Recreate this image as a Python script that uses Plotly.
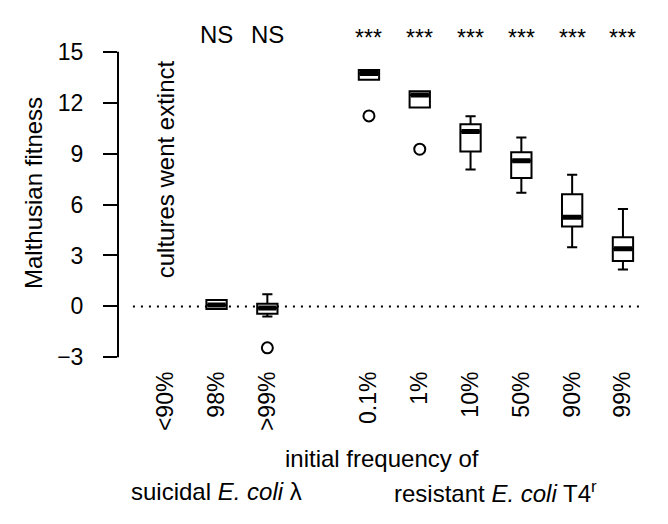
import plotly.graph_objects as go

FONT = "Liberation Sans, Arial, Helvetica, sans-serif"

# ---- data ----
tick_positions = [1, 2, 3, 5, 6, 7, 8, 9, 10]
tick_labels = ["&lt;90%", "98%", "&gt;99%", "0.1%", "1%", "10%", "50%", "90%", "99%"]

box_x = [2, 3, 5, 6, 7, 8, 9, 10]
box_q1 = [-0.15, -0.43, 13.35, 11.72, 9.12, 7.57, 4.70, 2.67]
box_median = [0.08, -0.10, 13.72, 12.45, 10.30, 8.58, 5.25, 3.40]
box_q3 = [0.38, 0.16, 13.92, 12.68, 10.73, 9.08, 6.60, 4.07]
box_lower = [-0.15, -0.59, 13.35, 11.72, 8.06, 6.70, 3.48, 2.18]
box_upper = [0.38, 0.71, 13.92, 12.68, 11.20, 9.95, 7.76, 5.74]

outlier_x = [3, 5, 6]
outlier_y = [-2.44, 11.22, 9.26]

sig_x = [2, 3, 5, 6, 7, 8, 9, 10]
sig_text = ["NS", "NS", "***", "***", "***", "***", "***", "***"]

y_ticks = [-3, 0, 3, 6, 9, 12, 15]

# ---- layout geometry ----
L, R, T, B = 118, 0, 10, 158
W, H = 668, 524
plot_w = W - L - R
plot_h = H - T - B
x_range = [0.06, 0.06 + plot_w / 50.8]
y_range = [-3.51, 17.46]


def py(px):
    """pixel row -> paper y"""
    return (H - B - px) / plot_h


def pxx(px):
    """pixel column -> paper x"""
    return (px - L) / plot_w


fig = go.Figure()

fig.add_trace(go.Box(
    x=box_x, q1=box_q1, median=box_median, q3=box_q3,
    lowerfence=box_lower, upperfence=box_upper,
    width=0.40, whiskerwidth=0.5,
    fillcolor="white", line=dict(color="black", width=2),
    boxpoints=False, showlegend=False, hoverinfo="skip",
))
# thick median bars
fig.add_trace(go.Box(
    x=box_x, q1=box_median, median=box_median, q3=box_median,
    lowerfence=box_median, upperfence=box_median,
    width=0.36, whiskerwidth=0,
    fillcolor="black", line=dict(color="black", width=5),
    boxpoints=False, showlegend=False, hoverinfo="skip",
))
fig.add_trace(go.Scatter(
    x=outlier_x, y=outlier_y, mode="markers",
    marker=dict(symbol="circle-open", size=11, color="black",
                line=dict(width=2, color="black")),
    showlegend=False, hoverinfo="skip",
))

# dotted zero line
fig.add_shape(type="line", xref="x", yref="y", x0=0.354, x1=10.37, y0=0, y1=0,
              line=dict(color="black", width=2, dash="2px,6px"), layer="below")
# y axis line from -3 to 15
fig.add_shape(type="line", xref="paper", yref="y", x0=0, x1=0,
              y0=y_ticks[0], y1=y_ticks[-1],
              line=dict(color="black", width=2))

TXT = 24
ann = []
for xv, t in zip(sig_x, sig_text):
    ann.append(dict(x=xv, y=16.0, xref="x", yref="y", text=t, showarrow=False,
                    font=dict(family=FONT, size=TXT if t == "NS" else 23, color="black"),
                    xanchor="center", yanchor="middle",
                    yshift=0 if t == "NS" else -3))
ann.append(dict(x=1, y=py(169.5), xref="x", yref="paper", text="cultures went extinct",
                textangle=-90, showarrow=False,
                font=dict(family=FONT, size=TXT, color="black"),
                xanchor="center", yanchor="middle"))
ann.append(dict(x=pxx(33), y=py(193), xref="paper", yref="paper", text="Malthusian fitness",
                textangle=-90, showarrow=False,
                font=dict(family=FONT, size=TXT, color="black"),
                xanchor="center", yanchor="middle"))
ann.append(dict(x=pxx(382), y=py(458), xref="paper", yref="paper",
                text="initial frequency of", showarrow=False,
                font=dict(family=FONT, size=TXT, color="black"),
                xanchor="center", yanchor="middle"))
ann.append(dict(x=pxx(216), y=py(492), xref="paper", yref="paper",
                text="suicidal <i>E. coli</i> λ", showarrow=False,
                font=dict(family=FONT, size=TXT, color="black"),
                xanchor="center", yanchor="middle"))
ann.append(dict(x=pxx(495), y=py(492), xref="paper", yref="paper",
                text="resistant <i>E. coli</i> T4<sup>r</sup>", showarrow=False,
                font=dict(family=FONT, size=TXT, color="black"),
                xanchor="center", yanchor="middle"))

fig.update_layout(
    width=W, height=H,
    margin=dict(l=L, r=R, t=T, b=B, pad=0),
    paper_bgcolor="white", plot_bgcolor="white",
    font=dict(family=FONT, size=23, color="black"),
    annotations=ann,
    xaxis=dict(range=x_range, tickvals=tick_positions, ticktext=tick_labels,
               tickangle=-90, ticks="", showline=False, showgrid=False,
               zeroline=False, tickfont=dict(family=FONT, size=23, color="black")),
    yaxis=dict(range=y_range, tickvals=y_ticks, ticks="outside", ticklen=14,
               tickwidth=2, tickcolor="black", showline=False, showgrid=False,
               zeroline=False, ticklabelstandoff=15,
               tickfont=dict(family=FONT, size=23, color="black")),
)

fig.write_html("out.html",
               config={"displayModeBar": False},
               post_script="document.body.style.margin='0';document.body.style.overflow='hidden';")
